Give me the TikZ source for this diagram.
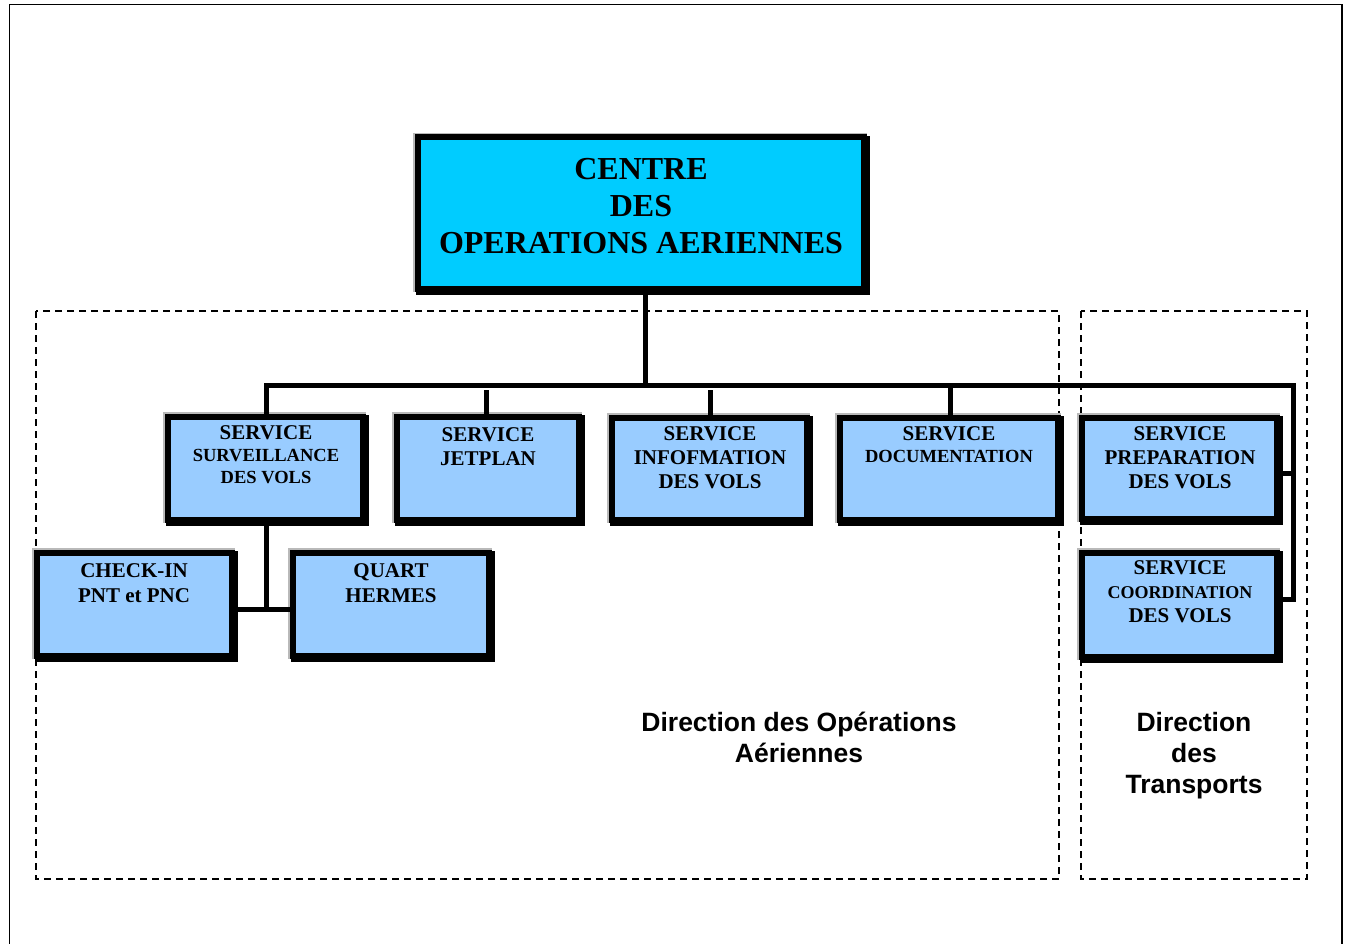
\documentclass[tikz,border=0pt]{standalone}
\usepackage{fontspec}
\setmainfont{Liberation Serif}
\newfontfamily\labelfont{Liberation Sans}
\usetikzlibrary{calc}
\definecolor{mainfill}{HTML}{00CCFF}
\definecolor{svcfill}{HTML}{99CCFF}

% #1 name, #2 left, #3 top, #4 right, #5 bottom, #6 fill colour
\newcommand{\orgbox}[6]{%
  \fill[gray!55] (#2,#3) rectangle (#4-3,#5-3);
  \fill[black] (#2+3,#3+3) rectangle (#4,#5);
  \node[orgnode, fill=#6, minimum width={#4-#2-10.5}, minimum height={#5-#3-10.5}]
    (#1) at ({(#2+#4-1.5)/2},{(#3+#5-1.5)/2}) {};
}

\begin{document}
\begin{tikzpicture}[x=1pt,y=-1pt,
  orgnode/.style={rectangle, draw=black, line width=6pt, inner sep=0pt},
  conn/.style={line width=5pt, line join=miter},
  zone/.style={line width=1.4pt, dash pattern=on 7pt off 5pt},
  frame/.style={line width=1.6pt},
  titletext/.style={font=\bfseries\fontsize{32}{37}\selectfont, align=center, inner sep=0pt, anchor=base},
  svctext/.style={font=\bfseries\fontsize{21}{24}\selectfont, align=center, inner sep=0pt, anchor=base},
  zonetext/.style={font=\labelfont\bfseries\fontsize{26.5}{31}\selectfont, align=center, inner sep=0pt, anchor=base}]
\useasboundingbox (0,0) rectangle (1347,944);

% page frame (open at the bottom)
\draw[frame] (9.5,944) -- (9.5,4.5) -- (1342,4.5) -- (1342,944);

% dashed zones
\draw[zone] (36,311) rectangle (1059,879);
\draw[zone] (1081,311) rectangle (1307,879);

% boxes
\orgbox{main}{413}{133}{870}{295}{mainfill}
\orgbox{surv}{163}{412}{369}{526}{svcfill}
\orgbox{jet}{392}{412}{585}{526}{svcfill}
\orgbox{info}{607}{413}{813}{526}{svcfill}
\orgbox{doc}{835}{413}{1064}{526}{svcfill}
\orgbox{prep}{1077}{413}{1283}{525}{svcfill}
\orgbox{coord}{1077}{548}{1283}{663}{svcfill}
\orgbox{check}{32}{548}{238}{662}{svcfill}
\orgbox{quart}{288}{548}{495}{662}{svcfill}

% box texts (anchored on the baseline of the last line)
\node[titletext] (mainT) at (641,254) {CENTRE\\DES\\OPERATIONS AERIENNES};
\node[svctext, font=\bfseries\fontsize{21}{22}\selectfont] (survT) at (266,483)
  {SERVICE\\{\fontsize{18.5}{22}\selectfont SURVEILLANCE}\\{\fontsize{18.5}{22}\selectfont DES VOLS}};
\node[svctext] (jetT) at (488,465) {SERVICE\\JETPLAN};
\node[svctext] (infoT) at (710,488) {SERVICE\\INFOFMATION\\DES VOLS};
\node[svctext, font=\bfseries\fontsize{21}{22}\selectfont] (docT) at (949,462)
  {SERVICE\\{\fontsize{18.5}{22}\selectfont DOCUMENTATION}};
\node[svctext] (prepT) at (1180,488) {SERVICE\\PREPARATION\\DES VOLS};
\node[svctext] (coordT) at (1180,622)
  {SERVICE\\{\fontsize{18}{24}\selectfont COORDINATION}\\DES VOLS};
\node[svctext, font=\bfseries\fontsize{21}{25}\selectfont] (checkT) at (134,602) {CHECK-IN\\PNT et PNC};
\node[svctext, font=\bfseries\fontsize{21}{25}\selectfont] (quartT) at (391,602) {QUART\\HERMES};

% zone labels
\node[zonetext] (dirOps) at (799,762) {Direction des Opérations\\Aériennes};
\node[zonetext] (dirTr) at (1194,793) {Direction\\des\\Transports};

% connector junctions
\coordinate (tj) at (645,385);
\coordinate (bc) at (1293,385);
\coordinate (pbend) at (1293,473);
\coordinate (cbend) at (1293,599);
\coordinate (jtop) at (486,390);
\coordinate (itop) at (710,390);
\coordinate (dtop) at (950,385);
\coordinate (hj) at (266,609);

% connectors
\draw[conn] (main.south -| tj) -- (tj);
\draw[conn] (surv.north -| 266,0) -- (266,385) -- (bc) -- (cbend) -- (cbend -| coord.east);
\draw[conn] (pbend -| prep.east) -- (pbend);
\draw[conn] (jet.north -| jtop) -- (jtop);
\draw[conn] (info.north -| itop) -- (itop);
\draw[conn] (doc.north -| dtop) -- (dtop);
\draw[conn] (surv.south -| hj) -- (hj);
\draw[conn] (check.east |- hj) -- (quart.west |- hj);
\end{tikzpicture}
\end{document}
